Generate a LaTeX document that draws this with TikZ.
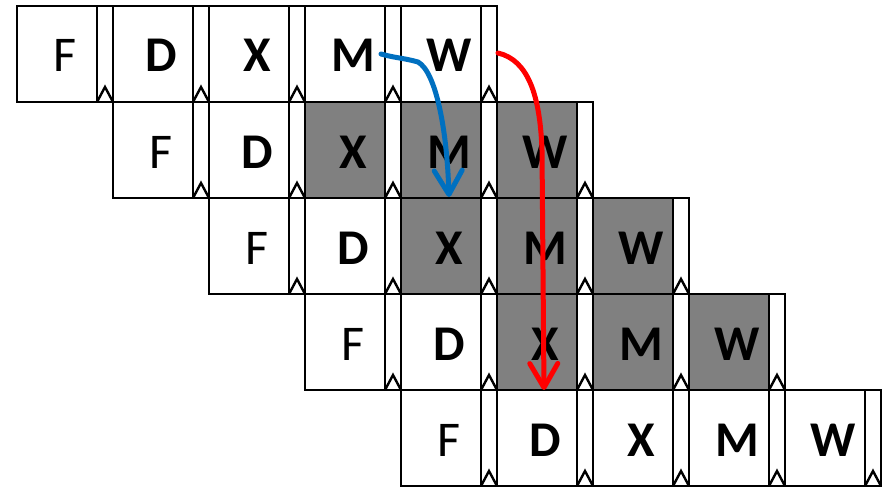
\documentclass[tikz,border=0pt]{standalone}
\usepackage{fontspec}
\setmainfont{Carlito}
\usetikzlibrary{arrows.meta}
\definecolor{flowblue}{RGB}{0,112,192}
\definecolor{flowred}{RGB}{255,0,0}
\definecolor{busy}{RGB}{128,128,128}
\begin{document}
\begin{tikzpicture}[x=1pt,y=-1pt,line width=2.4pt,
  stagebox/.style={draw=black,minimum width=80pt,minimum height=96pt,inner sep=0pt,outer sep=0pt,anchor=north west},
  latchbox/.style={draw=black,fill=white,minimum width=16pt,minimum height=96pt,inner sep=0pt,outer sep=0pt,anchor=north west},
  stagelabel/.style={anchor=base,inner sep=0pt,font=\fontsize{50}{50}\selectfont},
  flow/.style={line width=5pt,line cap=round,-{Straight Barb[length=24pt,width=28pt,line cap=round,line join=round]}}]
\useasboundingbox (0,0) rectangle (887,487);
\fill[white] (0,0) rectangle (887,487);
\foreach \r in {1,...,5} {
  \foreach \c/\t in {1/F,2/D,3/X,4/M,5/W} {
    \pgfmathsetmacro\xx{17+96*(\r-1)+96*(\c-1)}
    \pgfmathsetmacro\yy{6+96*(\r-1)}
    \pgfmathtruncatemacro\g{and(and(\r>1,\r<5),\c>2)}
    \ifnum\g=1 \def\fc{busy}\else\def\fc{white}\fi
    \node[stagebox,fill=\fc] (b\r\c) at (\xx,\yy) {};
    \node[latchbox] (l\r\c) at (\xx+80,\yy) {};
    \draw[line join=miter] (l\r\c.south west) -- ++(8,-15) -- (l\r\c.south east);
    \ifnum\c=1
      \node[stagelabel] (t\r\c) at (\xx+48,\yy+66) {\t};
    \else
      \node[stagelabel,font=\fontsize{50}{50}\selectfont\bfseries] (t\r\c) at (\xx+48,\yy+66) {\t};
    \fi
  }
}
\coordinate (bs) at (381,54);
\coordinate (bm) at (418,62);
\coordinate (be) at (449,197);
\coordinate (rs) at (498,53);
\coordinate (rm) at (542,150);
\coordinate (re) at (544,390);
\draw[flow,draw=flowblue] (bs) .. controls (395,58) and (404,58) .. (bm) .. controls (436,72) and (447,130) .. (be);
\draw[flow,draw=flowred] (rs) .. controls (528,60) and (540,95) .. (rm) -- (re);
\end{tikzpicture}
\end{document}
